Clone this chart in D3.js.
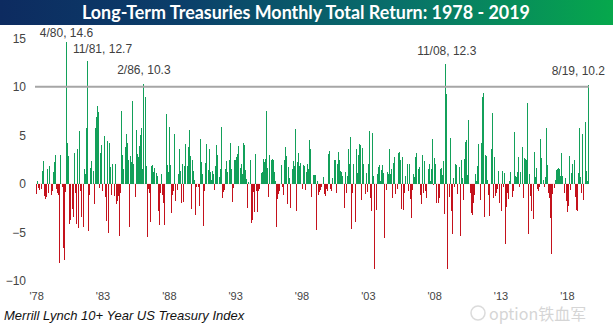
<!DOCTYPE html>
<html>
<head>
<meta charset="utf-8">
<script src="https://cdn.jsdelivr.net/npm/d3@7"></script>
<style>
  html, body { margin: 0; padding: 0; background: #fff; }
  svg { display: block; }
</style>
</head>
<body>
<svg id="chart" width="613" height="326"></svg>
<script>
// ---- DATA (monthly total return, %) ----
const startYear = 1978;
const y1978 = [-1.1, 0.3, -0.4, -0.6, -0.5, 1.3, 2.3, -1.3, -1.6, -1.4, 1.5, -1.0];
const y1979 = [1.8, -1.2, -0.8, 1.2, 2.2, 3.0, -0.5, -1.0, -1.2, -8.2, 3.0, -0.3];
const y1980 = [-6.6, -7.9, -0.9, 14.6, 4.2, 2.9, -4.2, -3.7, -2.6, -3.4, 3.2, -1.0];
const y1981 = [-4.2, 3.6, -4.6, 5.4, -0.7, -3.4, -4.5, 1.5, 1.0, 5.8, 12.7, -4.9];
const y1982 = [-1.2, 1.6, 2.3, 1.3, -2.1, 5.7, 6.9, 8.0, 7.4, -0.4, 3.2, 4.0];
const y1983 = [-0.8, 4.9, -1.4, -3.8, 4.4, -5.1, 4.2, 1.7, -1.2, 2.0, -1.3, 2.0];
const y1984 = [-2.1, -1.8, -1.3, -5.4, -1.0, 7.5, 3.0, 1.5, 3.8, 5.1, 4.2, 2.4];
const y1985 = [-4.5, 2.9, 2.2, 8.5, 2.0, -1.4, 5.5, 3.1, 2.8, 3.9, 5.0, 5.8];
const y1986 = [1.5, 10.3, 8.9, 1.8, -5.5, -0.5, -1.0, -3.9, 1.8, 1.9, 1.2, 1.6];
const y1987 = [1.1, 0.8, -2.8, -4.3, -1.0, 1.0, -1.2, -2.0, -4.3, 7.2, 1.9, 1.2];
const y1988 = [5.9, 1.9, -3.0, -1.2, -0.7, 5.1, -1.8, -0.6, 1.0, 3.6, 1.3, -2.0];
const y1989 = [2.0, -1.9, 1.8, 4.1, 1.8, 3.8, 5.5, 2.9, -2.6, 2.5, 1.3, 0.4];
const y1990 = [-3.2, -0.3, -0.3, -2.3, 4.6, 2.2, 1.0, -4.4, -0.8, 2.1, 4.1, 1.4];
const y1991 = [3.6, 1.2, 0.4, 1.3, 1.0, -0.6, 1.8, 4.0, 3.0, 0.7, 1.5, 5.9];
const y1992 = [-1.5, -0.9, -0.6, 1.5, 2.3, 1.2, 2.5, 4.2, 1.5, -1.9, -0.4, 2.5];
const y1993 = [2.5, 2.8, 3.1, 3.9, 1.6, 2.0, 1.0, 4.2, 4.0, 1.4, 0.5, -2.5];
const y1994 = [0.2, 2.4, -4.1, -3.7, -0.9, -2.9, 3.1, -0.7, -2.9, -0.8, -0.5, 1.1];
const y1995 = [1.2, 2.6, 2.2, 2.6, 7.5, 1.6, -1.4, 3.0, 2.5, 2.6, 2.4, 1.2];
const y1996 = [0.3, -4.5, -1.6, -1.1, -0.8, 1.9, -0.3, -1.2, 2.5, 3.8, 2.9, -2.1];
const y1997 = [1.7, 0.6, -2.5, 1.5, 2.3, 1.8, 5.6, -2.8, 2.2, 3.2, 1.8, 2.1];
const y1998 = [-0.5, 1.9, 1.8, -0.6, 1.2, 2.0, 1.5, 4.5, 3.6, -1.4, 0.9, 0.9];
const y1999 = [0.9, -4.8, 0.3, -1.2, -0.9, -0.6, -0.3, 0.7, -1.1, -1.3, -0.5, -0.8];
const y2000 = [3.1, 3.4, -0.5, -0.8, 0.6, 2.5, 2.4, -1.0, 2.0, 3.3, 2.4, 1.3];
const y2001 = [1.2, 0.8, -2.5, 1.2, -1.0, 0.8, 3.6, 2.0, 4.8, -4.7, -1.0, 2.0];
const y2002 = [-3.9, 3.6, 1.1, 3.0, 4.1, 4.0, -1.7, 3.7, 2.0, -1.1, 1.1, -0.9];
const y2003 = [2.0, 5.4, -1.5, -2.8, 5.2, 0.8, -8.8, -2.7, 1.0, 1.7, 1.9, 0.3];
const y2004 = [1.4, 1.9, 1.1, -5.6, -0.6, 1.2, 1.0, 3.6, 1.0, 1.5, -1.5, 2.1];
const y2005 = [2.8, -1.1, -0.5, 3.2, 3.3, 2.5, -2.6, 2.8, -2.7, -1.0, 0.8, 2.0];
const y2006 = [-0.8, 2.0, -1.6, -3.5, -0.6, 1.0, 0.7, 2.8, 3.2, 1.5, 1.7, -1.2];
const y2007 = [-2.1, 3.0, -1.0, 2.3, -0.8, -1.5, 1.5, 2.0, 0.3, 1.5, 4.6, -0.1];
const y2008 = [2.7, 2.0, -2.0, -2.0, -1.5, 1.5, 1.6, 0.9, 2.3, -3.1, 12.3, 9.3];
const y2009 = [-8.8, -1.4, 4.7, -2.8, -5.2, 0.6, -0.3, 2.0, 1.9, -1.1, 1.7, -5.4];
const y2010 = [2.5, 0.6, -1.7, 2.6, 4.3, 4.5, 0.9, 6.6, -1.0, -3.0, -3.2, -2.0];
const y2011 = [-1.2, 1.0, 0.3, 1.8, 4.1, -1.7, 4.2, 8.9, 9.4, -3.4, 3.0, 2.9];
const y2012 = [0.4, -1.2, -3.3, 3.6, 7.3, -1.5, 2.8, -1.3, -1.0, -0.5, 1.3, -2.0];
const y2013 = [-2.8, 1.3, -0.3, 1.1, -6.2, -2.4, -1.0, -1.6, 0.3, 1.2, -1.4, -0.8];
const y2014 = [5.3, 0.8, 0.7, 1.2, 2.8, -0.3, 1.2, 3.8, -1.5, 2.7, 2.6, 2.5];
const y2015 = [8.3, -5.2, 1.0, -1.3, -2.8, -3.6, 3.3, 0.7, 1.6, -0.5, -0.8, -0.3];
const y2016 = [4.6, 2.7, 0.4, -0.3, 0.7, 5.7, 1.9, -1.0, -1.5, -3.5, -7.2, -1.1];
const y2017 = [-0.4, 0.4, 1.4, 1.5, 1.6, 1.5, 0.8, 3.2, 0.8, -1.0, 0.6, -1.8];
const y2018 = [-2.9, -2.3, 2.9, -0.6, 1.1, 2.0, 2.4, -1.4, -2.7, -2.8, 1.1, 5.8];
const y2019 = [0.7, -1.0, 5.1, -1.7, 6.4, 1.3, 0.3, 10.2];

const yearlySeries = [y1978, y1979, y1980, y1981, y1982, y1983, y1984, y1985, y1986, y1987,
  y1988, y1989, y1990, y1991, y1992, y1993, y1994, y1995, y1996, y1997, y1998, y1999,
  y2000, y2001, y2002, y2003, y2004, y2005, y2006, y2007, y2008, y2009, y2010, y2011,
  y2012, y2013, y2014, y2015, y2016, y2017, y2018, y2019];

const yTicks = [-10, -5, 0, 5, 10, 15];
const xTickYears = [1978, 1983, 1988, 1993, 1998, 2003, 2008, 2013, 2018];
const referenceLevel = 10;
const annotationKeys = ["1980-04", "1981-11", "1986-02", "2008-11", "2019-08"];
const annotationTexts = ["4/80, 14.6", "11/81, 12.7", "2/86, 10.3", "11/08, 12.3", "8/19, 10.2"];

const titleText = "Long-Term Treasuries Monthly Total Return: 1978 - 2019";
const sourceText = "Merrill Lynch 10+ Year US Treasury Index";
const watermarkText = "option铁血军";

// ---- build table ----
const data = [];
yearlySeries.forEach((arr, i) => {
  arr.forEach((v, m) => {
    data.push({ key: `${startYear + i}-${String(m + 1).padStart(2, "0")}`, year: startYear + i, month: m + 1, value: v });
  });
});

// ---- styles / layout ----
const W = 613, H = 326;
const green = "#13a05a", red = "#c4121c";
const annotOffsets = { "1980-04": [0, -5], "1981-11": [15, -8], "1986-02": [0, -9.5], "2008-11": [1, -9], "2019-08": [-10, -9.5] };

const svg = d3.select("#chart");

// title band
const defs = svg.append("defs");
const grad = defs.append("linearGradient").attr("id", "tg").attr("x1", "0").attr("x2", "1").attr("y1", "0").attr("y2", "0");
grad.append("stop").attr("offset", "0%").attr("stop-color", "#0d2b60");
grad.append("stop").attr("offset", "30%").attr("stop-color", "#0b3f6a");
grad.append("stop").attr("offset", "65%").attr("stop-color", "#08706a");
grad.append("stop").attr("offset", "100%").attr("stop-color", "#06a84c");
svg.append("rect").attr("x", 0).attr("y", 0).attr("width", W).attr("height", 25).attr("fill", "url(#tg)");
svg.append("text").attr("x", 306).attr("y", 19).attr("text-anchor", "middle")
  .attr("fill", "#fff").attr("font-family", "Lato, 'Open Sans', sans-serif").attr("font-weight", "bold")
  .attr("font-size", 18).attr("textLength", 448).attr("lengthAdjust", "spacingAndGlyphs").text(titleText);

// scales
const x = d3.scaleBand().domain(data.map(d => d.key)).range([36.15, 588.85]).paddingInner(0.12).paddingOuter(0);
const y = d3.scaleLinear().domain([-10, 15]).range([280.7, 38.3]);

// y axis labels
const yAxis = d3.axisLeft(y).tickValues(yTicks).tickSize(0).tickPadding(0);
const yg = svg.append("g").attr("transform", "translate(26,0)").call(yAxis);
yg.select(".domain").remove();
yg.selectAll("text").attr("font-family", "'Liberation Sans', Arial, sans-serif").attr("font-size", 12).attr("fill", "#444");

// x axis labels
const xAxis = d3.axisBottom(x)
  .tickValues(xTickYears.map(yr => `${yr}-01`))
  .tickFormat(k => "'" + k.slice(2, 4)).tickSize(0).tickPadding(0);
const xg = svg.append("g").attr("transform", "translate(0,292)").call(xAxis);
xg.select(".domain").remove();
xg.selectAll("text").attr("font-family", "'Liberation Sans', Arial, sans-serif").attr("font-size", 11).attr("fill", "#444");

// zero line
svg.append("line").attr("x1", x.range()[0]).attr("x2", x.range()[1]).attr("y1", y(0)).attr("y2", y(0))
  .attr("stroke", "#f3e6e6").attr("stroke-width", 1);

// bars
svg.append("g").attr("shape-rendering", "crispEdges").selectAll("rect").data(data).join("rect")
  .attr("x", d => x(d.key))
  .attr("width", Math.max(1, x.bandwidth()))
  .attr("y", d => y(Math.max(0, d.value)))
  .attr("height", d => Math.abs(y(d.value) - y(0)))
  .attr("fill", d => d.value >= 0 ? green : red);

// reference line at 10
svg.append("line").attr("x1", 35).attr("x2", x(data[data.length - 1].key) + x.bandwidth())
  .attr("y1", y(referenceLevel)).attr("y2", y(referenceLevel))
  .attr("stroke", "#a6a6a6").attr("stroke-width", 2);

// annotations
const byKey = new Map(data.map(d => [d.key, d]));
annotationKeys.forEach((k, i) => {
  const d = byKey.get(k);
  const off = annotOffsets[k];
  svg.append("text")
    .attr("x", x(k) + x.bandwidth() / 2 + off[0])
    .attr("y", y(d.value) + off[1])
    .attr("text-anchor", "middle")
    .attr("font-family", "'Liberation Sans', Arial, sans-serif").attr("font-size", 12).attr("fill", "#404040")
    .text(annotationTexts[i]);
});

// source note
svg.append("text").attr("x", 4).attr("y", 320)
  .attr("font-family", "'Liberation Sans', Arial, sans-serif").attr("font-style", "italic")
  .attr("font-size", 13).attr("fill", "#111").text(sourceText);

// watermark (kept just below the tick labels so the texts do not collide)
const wm = svg.append("g").attr("opacity", 0.35);
wm.append("circle").attr("cx", 478).attr("cy", 313).attr("r", 7).attr("fill", "none").attr("stroke", "#999").attr("stroke-width", 1.5);
wm.append("text").attr("x", 489).attr("y", 320)
  .attr("font-family", "'Noto Sans CJK SC', 'Noto Sans', sans-serif").attr("font-size", 16).attr("fill", "#888")
  .text(watermarkText);
</script>
</body>
</html>
